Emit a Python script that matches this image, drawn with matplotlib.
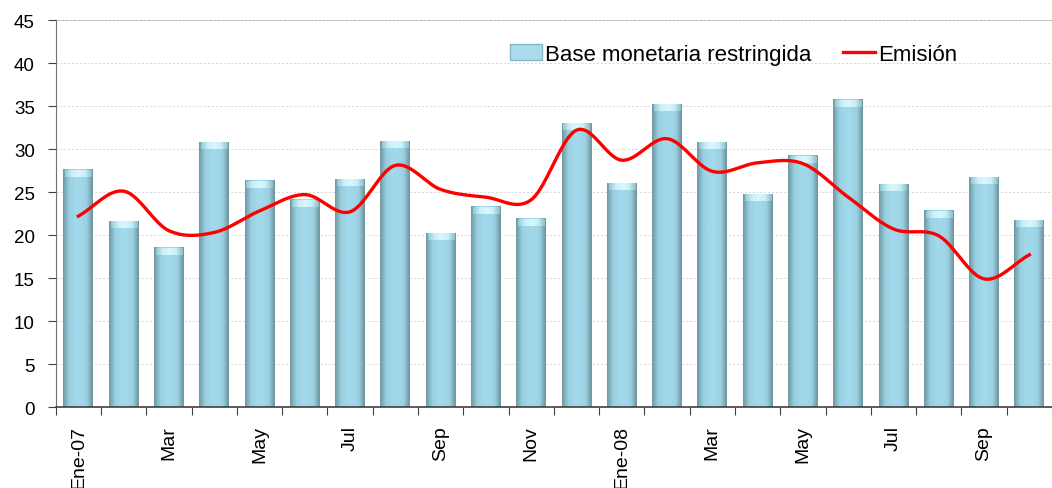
import numpy as np
import matplotlib.pyplot as plt
from matplotlib.colors import LinearSegmentedColormap
from matplotlib.patches import Patch

# meses (Ene-07 .. Oct-08)
meses = ['Ene-07', 'Feb', 'Mar', 'Abr', 'May', 'Jun', 'Jul', 'Ago', 'Sep', 'Oct', 'Nov', 'Dic',
         'Ene-08', 'Feb', 'Mar', 'Abr', 'May', 'Jun', 'Jul', 'Ago', 'Sep', 'Oct']
base = [27.6, 21.6, 18.5, 30.8, 26.3, 24.1, 26.5, 30.9, 20.2, 23.3, 21.9, 33.0,
        26.0, 35.2, 30.8, 24.7, 29.2, 35.7, 25.9, 22.8, 26.7, 21.7]
emision = [22.2, 25.1, 20.5, 20.3, 22.8, 24.7, 22.7, 28.1, 25.3, 24.4, 24.1, 32.2,
           28.7, 31.2, 27.4, 28.4, 28.3, 24.4, 20.7, 19.9, 14.9, 17.7]


def catmull_rom(x, y, n=20):
    # suavizado tipo Excel
    x = np.asarray(x, float)
    y = np.asarray(y, float)
    px = np.concatenate([[2 * x[0] - x[1]], x, [2 * x[-1] - x[-2]]])
    py = np.concatenate([[2 * y[0] - y[1]], y, [2 * y[-1] - y[-2]]])
    xs, ys = [], []
    t = np.linspace(0, 1, n, endpoint=False)
    for i in range(1, len(px) - 2):
        p0, p1, p2, p3 = py[i - 1], py[i], py[i + 1], py[i + 2]
        q0, q1, q2, q3 = px[i - 1], px[i], px[i + 1], px[i + 2]
        ys.append(0.5 * (2 * p1 + (-p0 + p2) * t + (2 * p0 - 5 * p1 + 4 * p2 - p3) * t ** 2
                         + (-p0 + 3 * p1 - 3 * p2 + p3) * t ** 3))
        xs.append(0.5 * (2 * q1 + (-q0 + q2) * t + (2 * q0 - 5 * q1 + 4 * q2 - q3) * t ** 2
                         + (-q0 + 3 * q1 - 3 * q2 + q3) * t ** 3))
    xs.append([x[-1]])
    ys.append([y[-1]])
    return np.concatenate(xs), np.concatenate(ys)


plt.rcParams['font.family'] = ['Liberation Sans', 'DejaVu Sans']

fig = plt.figure(figsize=(10.52, 4.89), dpi=100)
ax = fig.add_axes([0.053, 0.1656, 0.947, 0.7914])

x = np.arange(len(meses))
width = 0.66
bars = ax.bar(x, base, width, color='#9fd6e8', zorder=2)

# sombreado cilindrico de las barras
cmap = LinearSegmentedColormap.from_list(
    'cyl', ['#7197a2', '#98cfe0', '#a2d9ea', '#a2d9ea', '#9ad1e2', '#6d939e'])
cap = LinearSegmentedColormap.from_list(
    'cap', ['#94c8d6', '#c8f0f8', '#daf7fc', '#c8f0f8', '#8cbecb'])
grad = np.linspace(0, 1, 64)
for b in bars:
    x0, w, h = b.get_x(), b.get_width(), b.get_height()
    ax.imshow(grad[None, :], cmap=cmap, aspect='auto', extent=(x0, x0 + w, 0, h),
              zorder=2.1, interpolation='bilinear')
    ax.imshow(grad[None, :], cmap=cap, aspect='auto', extent=(x0 + 0.04, x0 + w - 0.04, h - 0.8, h),
              zorder=2.2, interpolation='bilinear')
    b.set_alpha(0)

sx, sy = catmull_rom(x, emision)
linea, = ax.plot(sx, sy, color='#ff0000', lw=2.4, zorder=3)

ax.set_xlim(-0.5, len(meses) - 0.5)
ax.set_ylim(0, 45)
ax.set_yticks(np.arange(0, 46, 5))
ax.yaxis.grid(True, color='#d6d6d6', ls=(0, (2, 2)), lw=0.7, zorder=0)
ax.axhline(45, color='#a8a8a8', lw=1.2, zorder=1)

ax.set_xticks(np.arange(-0.5, len(meses), 1))
ax.set_xticklabels([])
ax.set_xticks(x[::2], minor=True)
ax.set_xticklabels([meses[i] for i in x[::2]], minor=True, rotation=90,
                   fontsize=14, va='top')
ax.tick_params(axis='x', which='minor', length=0, pad=13)
ax.tick_params(axis='x', which='major', length=6, direction='out', color='#404040')
ax.tick_params(axis='y', labelsize=13.5, length=6, color='#404040', pad=9)

for s in ['top', 'right']:
    ax.spines[s].set_visible(False)
ax.spines['left'].set_color('#707070')
ax.spines['bottom'].set_color('#404040')
ax.spines['bottom'].set_linewidth(1.2)

handles = [Patch(facecolor='#a8dcec', edgecolor='#86b8c6'), linea]
ax.legend(handles, ['Base monetaria restringida', 'Emisión'], loc='upper right',
          bbox_to_anchor=(0.925, 0.99), ncol=2, frameon=False, fontsize=16,
          handlelength=1.45, handletextpad=0.15, columnspacing=1.4)

fig.savefig('out.png', dpi=100)
